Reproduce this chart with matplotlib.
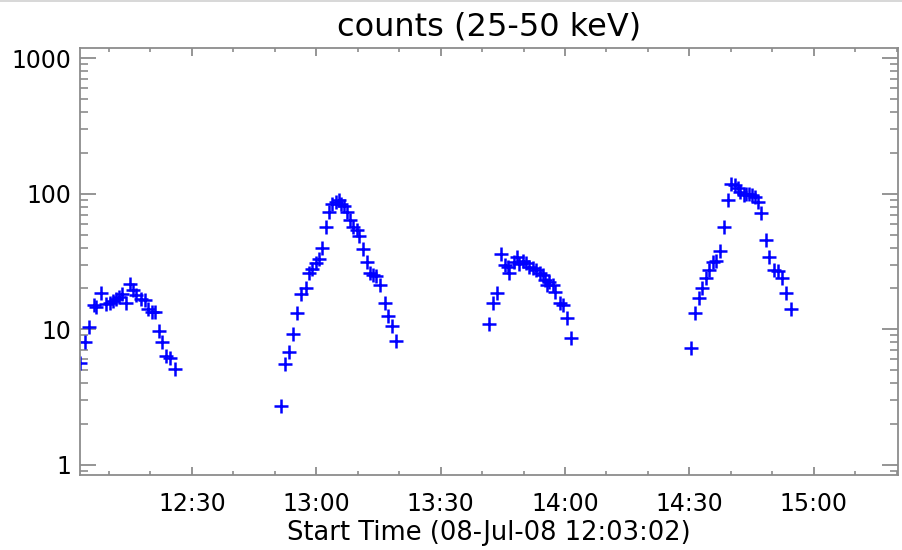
import pandas as pd
import numpy as np
import matplotlib
matplotlib.use("Agg")
import matplotlib.pyplot as plt
import matplotlib.dates as mdates
from matplotlib.patches import Rectangle
from matplotlib.ticker import FixedLocator, FuncFormatter, NullFormatter

# tiempos en minutos despues de las 12:00 (08-Jul-08), cuentas 25-50 keV
t_min = [
    3.1, 4.3, 5.1, 6.3, 6.95, 8.0, 9.2, 10.2, 11.0, 11.8, 12.4, 13.1, 14.05,
    15.05, 15.8, 16.6, 17.8, 18.7, 19.4, 20.5, 21.0, 22.0, 22.9, 23.8, 24.8, 26.0,
    51.4, 52.35, 53.4, 54.35, 55.4, 56.4, 57.6, 58.2, 59.0, 60.0, 60.55, 61.45,
    62.4, 63.2, 63.85, 64.65, 65.4, 66.0, 66.8, 67.4, 68.2, 68.8, 69.8, 70.4,
    71.4, 72.2, 72.85, 73.65, 74.3, 75.3, 76.5, 77.3, 78.3, 79.3,
    101.55, 102.6, 103.65, 104.6, 105.6, 106.2, 106.6, 107.65, 108.5, 109.0,
    109.8, 110.6, 111.4, 112.2, 113.05, 113.85, 114.6, 115.2, 115.7, 116.25,
    117.05, 117.5, 118.7, 119.45, 120.5, 121.5,
    150.3, 151.3, 152.3, 153.15, 154.0, 154.8, 155.6, 156.4, 157.4, 158.45,
    159.4, 160.1, 160.9, 161.65, 162.3, 163.05, 163.7, 164.4, 165.1, 165.8,
    166.5, 167.3, 168.35, 169.3, 170.3, 171.3, 172.4, 173.3, 174.4,
]
counts = [
    5.65, 8.07, 10.3, 15.2, 14.6, 18.4, 15.3, 15.5, 16.2, 16.8, 17.3, 18.1, 15.5,
    21.4, 19.4, 17.8, 16.8, 16.4, 14.2, 13.4, 13.4, 9.7, 8.0, 6.4, 6.1, 5.05,
    2.71, 5.50, 6.81, 9.2, 13.1, 18.1, 20.3, 26.1, 27.8, 30.9, 32.9, 40.1,
    56.9, 73.4, 83.7, 87.0, 89.5, 83.7, 80.9, 73.4, 64.5, 56.9, 54.4, 48.6,
    38.8, 31.4, 26.1, 25.1, 24.6, 21.1, 15.5, 12.6, 10.5, 8.21,
    10.9, 15.5, 18.4, 36.2, 29.7, 28.8, 25.8, 31.4, 33.9, 30.2,
    31.9, 30.9, 28.6, 28.1, 27.3, 25.8, 25.1, 23.0, 21.1, 22.4,
    21.1, 18.9, 15.7, 15.1, 12.2, 8.55,
    7.29, 13.2, 17.1, 20.1, 23.7, 27.4, 31.5, 32.1, 37.7, 56.9,
    89.5, 119, 116, 111, 103, 97.5, 99.1, 100, 98.3, 94.7,
    86.5, 72.4, 45.4, 34.2, 27.3, 27.1, 23.7, 18.4, 14.0,
]
start_time = "2008-07-08 12:03:02"
y_major = [1, 10, 100, 1000]

base = pd.Timestamp("2008-07-08 12:00:00")
tiempos = base + pd.to_timedelta(t_min, unit="m")

fig = plt.figure(figsize=(9.03, 5.5), dpi=100)
fig.patch.set_facecolor("white")
# franja gris de la captura original
fig.add_artist(Rectangle((0, 1 - 2 / 550), 1, 2 / 550, transform=fig.transFigure,
                         facecolor="#d8d8d8", edgecolor="none"))
ax = fig.add_axes([80 / 903, 1 - 475 / 550, 818 / 903, 427 / 550])

ax.plot(tiempos, counts, linestyle="none", marker="+", color="#0000ff",
        markersize=10, markeredgewidth=1.8)

ax.set_yscale("log")
ax.set_ylim(0.84, 1190)
ax.set_xlim(pd.Timestamp(start_time), base + pd.Timedelta(minutes=200.3))

# ticks estilo IDL
ax.yaxis.set_major_locator(FixedLocator(y_major))
ax.yaxis.set_major_formatter(FuncFormatter(lambda v, p: f"{v:g}"))
menores = [0.9] + [m * d for d in (1, 10, 100) for m in range(2, 10)]
ax.yaxis.set_minor_locator(FixedLocator(menores))
ax.yaxis.set_minor_formatter(NullFormatter())

ax.xaxis.set_major_locator(mdates.MinuteLocator(byminute=[0, 30]))
ax.xaxis.set_minor_locator(mdates.MinuteLocator(byminute=[0, 10, 20, 30, 40, 50]))
ax.xaxis.set_major_formatter(mdates.DateFormatter("%H:%M"))

gris = "#8c8c8c"
for spine in ax.spines.values():
    spine.set_color(gris)
    spine.set_linewidth(1.3)

ax.tick_params(axis="both", which="both", direction="in", top=True, right=True,
               color=gris, labelcolor="black", labelsize=17)
ax.tick_params(axis="x", which="major", length=6, width=1.3, pad=12)
ax.tick_params(axis="x", which="minor", length=3, width=1.2)
ax.tick_params(axis="y", which="major", length=11.5, width=1.3, pad=6)
ax.tick_params(axis="y", which="minor", length=5.5, width=1.2)

ax.set_title("counts (25-50 keV)", fontsize=23, pad=9)
ax.set_xlabel("Start Time (08-Jul-08 12:03:02)", fontsize=18.5, labelpad=3)

fig.savefig("out.png", dpi=100)
